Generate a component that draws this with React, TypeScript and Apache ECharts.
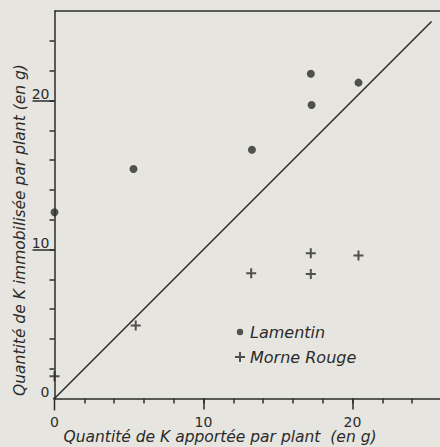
import React, { useEffect, useRef } from "react";
import * as echarts from "echarts";

// ---- data ----
const lamentin: [number, number][] = [
  [0, 12.5],
  [5.3, 15.4],
  [13.25, 16.7],
  [17.2, 21.8],
  [17.25, 19.7],
  [20.4, 21.2],
];
const morneRouge: [number, number][] = [
  [0, 1.5],
  [5.45, 4.9],
  [13.2, 8.4],
  [17.2, 9.75],
  [17.2, 8.35],
  [20.4, 9.6],
];
const identityLine: [number, number][] = [
  [0, 0],
  [25.3, 25.3],
];
const xTickValues = [2, 4, 6, 8, 10, 12, 14, 16, 18, 20, 22, 24];
const yTickValues = [2, 4, 6, 8, 10, 12, 14, 16, 18, 20, 22, 24];
const majorTickValues = [10, 20];
const labelValues = [0, 10, 20];

const X_MAX = 25.87;
const Y_MAX = 26;
// small extensions of the axes past the origin (cross style)
const xAxisStub: [number, number][] = [
  [-1.7, 0],
  [0, 0],
];
const yAxisStub: [number, number][] = [
  [0, -0.8],
  [0, 0],
];
const frameTop: [number, number][] = [
  [0, Y_MAX],
  [X_MAX, Y_MAX],
];

const INK = "#2b2b2b";
const BG = "#e7e5df";
const FONT = "DejaVu Sans";
const PLUS = "path://M4,0H6V4H10V6H6V10H4V6H0V4H4Z";
const SMALL_CIRCLE = "path://M0,0M10,10M5,1.8A3.2,3.2,0,1,1,5,8.2A3.2,3.2,0,1,1,5,1.8Z";

export default function App() {
  const ref = useRef<HTMLDivElement>(null);
  useEffect(() => {
    document.body.style.margin = "0";
    document.body.style.background = BG;
    if (!ref.current) return;
    const chart = echarts.init(ref.current, undefined, { renderer: "svg" });
    const lineStyle = { color: INK, width: 1.5 };
    const baseX = {
      type: "value" as const,
      min: 0,
      max: X_MAX,
      position: "bottom" as const,
      splitLine: { show: false },
    };
    const baseY = {
      type: "value" as const,
      min: 0,
      max: Y_MAX,
      position: "left" as const,
      splitLine: { show: false },
    };
    const stub = (data: [number, number][]) => ({
      type: "line" as const,
      data,
      showSymbol: false,
      symbol: "none",
      clip: false,
      lineStyle,
      silent: true,
    });
    chart.setOption({
      animation: false,
      backgroundColor: BG,
      grid: { left: 54.5, right: 0, top: 11.1, bottom: 48.5, containLabel: false },
      xAxis: [
        {
          ...baseX,
          axisLine: { show: true, onZero: false, lineStyle },
          axisTick: { show: true, customValues: xTickValues, length: 5, lineStyle },
          axisLabel: {
            show: true,
            customValues: labelValues,
            margin: 16,
            fontSize: 14,
            color: INK,
            fontFamily: FONT,
          },
        },
        {
          ...baseX,
          axisLine: { show: false, onZero: false },
          axisTick: { show: true, customValues: majorTickValues, length: 11, lineStyle },
          axisLabel: { show: false },
        },
      ],
      yAxis: [
        {
          ...baseY,
          axisLine: { show: true, onZero: false, lineStyle },
          axisTick: { show: true, customValues: yTickValues, length: 5, lineStyle },
          axisLabel: {
            show: true,
            customValues: labelValues,
            margin: 5,
            verticalAlign: "bottom",
            lineHeight: 14,
            fontSize: 14,
            color: INK,
            fontFamily: FONT,
          },
        },
        {
          ...baseY,
          axisLine: { show: false, onZero: false },
          axisTick: { show: true, customValues: majorTickValues, length: 22, lineStyle },
          axisLabel: { show: false },
        },
      ],
      legend: {
        orient: "vertical",
        left: 230,
        top: 319,
        itemWidth: 10,
        itemHeight: 10,
        itemGap: 9,
        selectedMode: false,
        data: [
          { name: "Lamentin", icon: SMALL_CIRCLE },
          { name: "Morne Rouge", icon: PLUS },
        ],
        textStyle: { fontSize: 16, fontStyle: "italic", fontFamily: FONT, color: INK },
      },
      series: [
        {
          name: "Lamentin",
          type: "scatter",
          symbol: "circle",
          symbolSize: 8,
          itemStyle: { color: INK },
          data: lamentin,
          clip: false,
          z: 5,
        },
        {
          name: "Morne Rouge",
          type: "scatter",
          symbol: PLUS,
          symbolSize: 10,
          itemStyle: { color: INK },
          data: morneRouge,
          clip: false,
          z: 5,
        },
        {
          name: "y = x",
          type: "line",
          data: identityLine,
          showSymbol: false,
          symbol: "none",
          lineStyle,
          silent: true,
        },
        { name: "frame", ...stub(frameTop) },
        { name: "x stub", ...stub(xAxisStub) },
        { name: "y stub", ...stub(yAxisStub) },
      ],
      graphic: [
        {
          type: "text",
          x: 220,
          y: 437,
          style: {
            text: "Quantité de K apportée par plant  (en g)",
            fontSize: 15.5,
            fontStyle: "italic",
            fontFamily: FONT,
            fill: INK,
            align: "center",
            verticalAlign: "middle",
          },
        },
        {
          type: "text",
          x: 20,
          y: 230,
          rotation: Math.PI / 2,
          style: {
            text: "Quantité de K immobilisée par plant (en g)",
            fontSize: 15.5,
            fontStyle: "italic",
            fontFamily: FONT,
            fill: INK,
            align: "center",
            verticalAlign: "middle",
          },
        },
      ],
    });
    return () => chart.dispose();
  }, []);
  return <div ref={ref} style={{ width: 440, height: 447, background: BG }} />;
}
